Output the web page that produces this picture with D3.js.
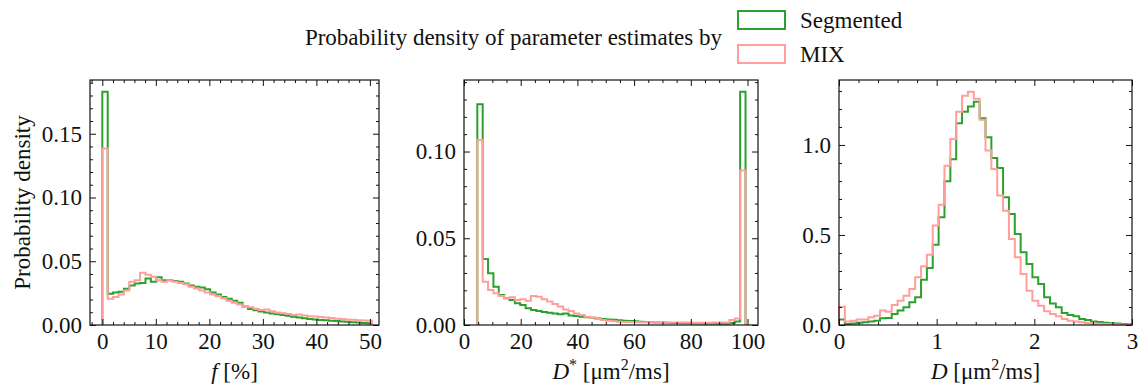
<!DOCTYPE html>
<html>
<head>
<meta charset="utf-8">
<script src="https://cdn.jsdelivr.net/npm/d3@7"></script>
<style>
  body { margin: 0; background: #fff; }
  svg text { font-family: "Liberation Serif", "DejaVu Serif", serif !important; }
</style>
</head>
<body>
<svg id="chart" width="1142" height="390"></svg>
<script>
// histogram heights (probability density), 50 bins per panel
const fSeg = [0.183, 0.0245, 0.0255, 0.026, 0.0285, 0.031, 0.0325, 0.033, 0.0365, 0.034,
  0.0375, 0.035, 0.035, 0.0345, 0.034, 0.0325, 0.031, 0.030, 0.0295, 0.028,
  0.0255, 0.024, 0.022, 0.0205, 0.019, 0.0175, 0.0145, 0.0125, 0.0115, 0.0105,
  0.0098, 0.009, 0.0084, 0.0078, 0.0072, 0.0064, 0.0058, 0.0053, 0.0048, 0.0044,
  0.004, 0.0037, 0.0034, 0.0031, 0.0028, 0.0025, 0.0022, 0.0019, 0.0016, 0.0013]
const fMix = [0.1385, 0.0205, 0.022, 0.024, 0.027, 0.034, 0.035, 0.041, 0.0395, 0.0378,
  0.035, 0.034, 0.035, 0.034, 0.033, 0.032, 0.030, 0.0287, 0.027, 0.0255,
  0.024, 0.0225, 0.021, 0.019, 0.0175, 0.016, 0.0148, 0.014, 0.0128, 0.0118,
  0.0122, 0.0108, 0.0098, 0.0092, 0.0086, 0.0078, 0.0082, 0.0074, 0.0068, 0.0066,
  0.0062, 0.0058, 0.0054, 0.005, 0.0047, 0.0044, 0.0041, 0.0038, 0.0036, 0.0034]

const dstarSeg = [0.1273, 0.038, 0.0298, 0.022, 0.0173, 0.0154, 0.0144, 0.0125, 0.0115, 0.0096,
  0.0087, 0.008, 0.0075, 0.007, 0.0067, 0.0062, 0.0066, 0.0055, 0.0052, 0.0048,
  0.0045, 0.0042, 0.0038, 0.0035, 0.0032, 0.003, 0.0027, 0.0025, 0.0023, 0.0021,
  0.0019, 0.0018, 0.0016, 0.0015, 0.0014, 0.0013, 0.0012, 0.0011, 0.001, 0.001,
  0.0009, 0.0009, 0.0008, 0.0008, 0.0008, 0.0007, 0.0007, 0.0012, 0.002, 0.1345]
const dstarMix = [0.1067, 0.025, 0.0202, 0.0183, 0.0167, 0.0154, 0.016, 0.0144, 0.0148, 0.014,
  0.0167, 0.0163, 0.0148, 0.0135, 0.0121, 0.0106, 0.009, 0.0081, 0.0067, 0.0058,
  0.0048, 0.0042, 0.0035, 0.0029, 0.0025, 0.0021, 0.0019, 0.0018, 0.0017, 0.0017,
  0.0016, 0.0016, 0.0016, 0.0015, 0.0015, 0.0015, 0.0014, 0.0014, 0.0014, 0.0014,
  0.0013, 0.0013, 0.0013, 0.0013, 0.0014, 0.0014, 0.0015, 0.0029, 0.0038, 0.089]

const dSeg = [0.031, 0.006, 0.009, 0.013, 0.015, 0.02, 0.024, 0.037, 0.039, 0.061,
  0.08, 0.098, 0.126, 0.154, 0.252, 0.317, 0.446, 0.598, 0.798, 0.92,
  1.12, 1.185, 1.213, 1.24, 1.148, 1.043, 0.928, 0.872, 0.709, 0.617,
  0.506, 0.404, 0.339, 0.265, 0.228, 0.154, 0.12, 0.098, 0.067, 0.056,
  0.048, 0.033, 0.028, 0.02, 0.017, 0.013, 0.01, 0.008, 0.006, 0.004]
const dMix = [0.102, 0.020, 0.024, 0.031, 0.031, 0.0426, 0.052, 0.08, 0.074, 0.111,
  0.135, 0.163, 0.2, 0.265, 0.326, 0.39, 0.552, 0.668, 0.885, 1.033,
  1.185, 1.274, 1.296, 1.256, 1.14, 0.969, 0.867, 0.719, 0.635, 0.478,
  0.376, 0.283, 0.19, 0.135, 0.107, 0.076, 0.061, 0.048, 0.033, 0.024,
  0.019, 0.015, 0.011, 0.009, 0.007, 0.005, 0.004, 0.003, 0.002, 0.0015]

// bin ranges and axis limits
const fBins = [0, 50.4]
const dstarBins = [4.7, 99.3]
const dBins = [0, 3]
const fLim = [-2.3, 51.7]
const dstarLim = [0, 103.7]
const dLim = [0, 3]

const fTicks = [0, 10, 20, 30, 40, 50]
const dstarTicks = [0, 20, 40, 60, 80, 100]
const dTicks = [0, 1, 2, 3]
const fYTicks = [0, 0.05, 0.10, 0.15]
const dstarYTicks = [0, 0.05, 0.10]
const dYTicks = [0, 0.5, 1.0]

const seriesNames = ['Segmented', 'MIX']
const colors = {Segmented: '#2ca02c', MIX: '#ff9e9b'}

const FONT = '"Liberation Serif", serif'
const FS = '23px'

const svg = d3.select('#chart')
const panelTop = 80, panelBottom = 325

const panels = [
  {x0: 90, x1: 379, seg: fSeg, mix: fMix, bins: fBins, lim: fLim, ticks: fTicks,
   minorX: 2, yTicks: fYTicks, minorY: 0.01, yFmt: '.2f', label: 'f', ylabel: true},
  {x0: 464, x1: 758, seg: dstarSeg, mix: dstarMix, bins: dstarBins, lim: dstarLim, ticks: dstarTicks,
   minorX: 5, yTicks: dstarYTicks, minorY: 0.01, yFmt: '.2f', label: 'dstar'},
  {x0: 839, x1: 1132, seg: dSeg, mix: dMix, bins: dBins, lim: dLim, ticks: dTicks,
   minorX: 0.2, yTicks: dYTicks, minorY: 0.1, yFmt: '.1f', label: 'd'}
]

function minorValues(lo, hi, step) {
  const out = []
  const start = Math.ceil(lo / step - 1e-9)
  for (let i = start; i * step <= hi + 1e-9; i++) out.push(+(i * step).toFixed(6))
  return out
}

function stepPoints(heights, bins) {
  const n = heights.length
  const w = (bins[1] - bins[0]) / n
  const pts = [{x: bins[0], y: 0}]
  heights.forEach((h, i) => pts.push({x: bins[0] + i * w, y: h}))
  pts.push({x: bins[1], y: heights[n - 1]})
  pts.push({x: bins[1], y: 0})
  return pts
}

panels.forEach(p => {
  const x = d3.scaleLinear().domain(p.lim).range([p.x0, p.x1])
  const ymax = d3.max(p.seg.concat(p.mix)) * 1.05
  const y = d3.scaleLinear().domain([0, ymax]).range([panelBottom, panelTop])
  const g = svg.append('g')

  const line = d3.line()
    .curve(d3.curveStepAfter)
    .x(d => x(d.x))
    .y(d => y(d.y))

  g.append('path')
    .attr('d', line(stepPoints(p.seg, p.bins)))
    .style('fill', 'none')
    .style('stroke', colors.Segmented)
    .style('stroke-width', 2)

  g.append('path')
    .attr('d', line(stepPoints(p.mix, p.bins)))
    .style('fill', 'none')
    .style('stroke', colors.MIX)
    .style('stroke-width', 2)

  const minorXs = minorValues(p.lim[0], p.lim[1], p.minorX).filter(v => !p.ticks.some(t => Math.abs(t - v) < 1e-6))
  const minorYs = minorValues(0, ymax, p.minorY).filter(v => !p.yTicks.some(t => Math.abs(t - v) < 1e-6))
  const majorXs = p.ticks.filter(v => v >= p.lim[0] - 1e-9 && v <= p.lim[1] + 1e-9)

  g.append('g')
    .attr('transform', `translate(0,${panelBottom})`)
    .call(d3.axisBottom(x).tickValues(majorXs).tickSize(-6).tickPadding(8).tickFormat(d3.format('d')))
  g.append('g').attr('transform', `translate(0,${panelBottom})`)
    .call(d3.axisBottom(x).tickValues(minorXs).tickSize(-3).tickFormat(''))
  g.append('g').attr('transform', `translate(0,${panelTop})`)
    .call(d3.axisTop(x).tickValues(majorXs).tickSize(-6).tickFormat(''))
  g.append('g').attr('transform', `translate(0,${panelTop})`)
    .call(d3.axisTop(x).tickValues(minorXs).tickSize(-3).tickFormat(''))

  g.append('g').attr('transform', `translate(${p.x0},0)`)
    .call(d3.axisLeft(y).tickValues(p.yTicks).tickSize(-6).tickPadding(8).tickFormat(d3.format(p.yFmt)))
  g.append('g').attr('transform', `translate(${p.x0},0)`)
    .call(d3.axisLeft(y).tickValues(minorYs).tickSize(-3).tickFormat(''))
  g.append('g').attr('transform', `translate(${p.x1},0)`)
    .call(d3.axisRight(y).tickValues(p.yTicks).tickSize(-6).tickFormat(''))
  g.append('g').attr('transform', `translate(${p.x1},0)`)
    .call(d3.axisRight(y).tickValues(minorYs).tickSize(-3).tickFormat(''))

  g.selectAll('.domain').remove()
  g.selectAll('g').attr('font-family', FONT).attr('font-size', FS)
  g.selectAll('.tick line').attr('stroke', '#111').attr('stroke-width', 1)
  g.selectAll('.tick text').attr('fill', '#111')

  g.append('rect')
    .attr('x', p.x0).attr('y', panelTop)
    .attr('width', p.x1 - p.x0).attr('height', panelBottom - panelTop)
    .style('fill', 'none').style('stroke', '#111').style('stroke-width', 1.2)

  // x label
  const cx = (p.x0 + p.x1) / 2
  const xl = g.append('text')
    .attr('x', cx).attr('y', 379)
    .attr('text-anchor', 'middle')
    .attr('font-family', FONT).attr('font-size', FS).attr('fill', '#111')
  if (p.label === 'f') {
    xl.append('tspan').attr('font-style', 'italic').text('f')
    xl.append('tspan').text(' [%]')
  } else {
    xl.append('tspan').attr('font-style', 'italic').text('D')
    if (p.label === 'dstar') xl.append('tspan').attr('dy', -9).attr('font-size', '16px').text('*')
    xl.append('tspan').attr('dy', p.label === 'dstar' ? 9 : 0).text(' [\u03bcm')
    xl.append('tspan').attr('dy', -9).attr('font-size', '16px').text('2')
    xl.append('tspan').attr('dy', 9).text('/ms]')
  }

  if (p.ylabel) {
    g.append('text')
      .attr('transform', `translate(30,${(panelTop + panelBottom) / 2}) rotate(-90)`)
      .attr('text-anchor', 'middle')
      .attr('font-family', FONT).attr('font-size', FS).attr('fill', '#111')
      .text('Probability density')
  }
})

// title + legend
svg.append('text')
  .attr('x', 722).attr('y', 45)
  .attr('text-anchor', 'end')
  .attr('font-family', FONT).attr('font-size', FS).attr('fill', '#111')
  .text('Probability density of parameter estimates by')

const legend = svg.append('g').attr('transform', 'translate(737,10)')
seriesNames.forEach((name, i) => {
  legend.append('rect')
    .attr('x', 1).attr('y', i * 34 + 1)
    .attr('width', 47).attr('height', 18)
    .style('fill', 'none').style('stroke', colors[name]).style('stroke-width', 2)
  legend.append('text')
    .attr('x', 63).attr('y', i * 34 + 18)
    .attr('font-family', FONT).attr('font-size', FS).attr('fill', '#111')
    .text(name)
})
</script>
</body>
</html>
